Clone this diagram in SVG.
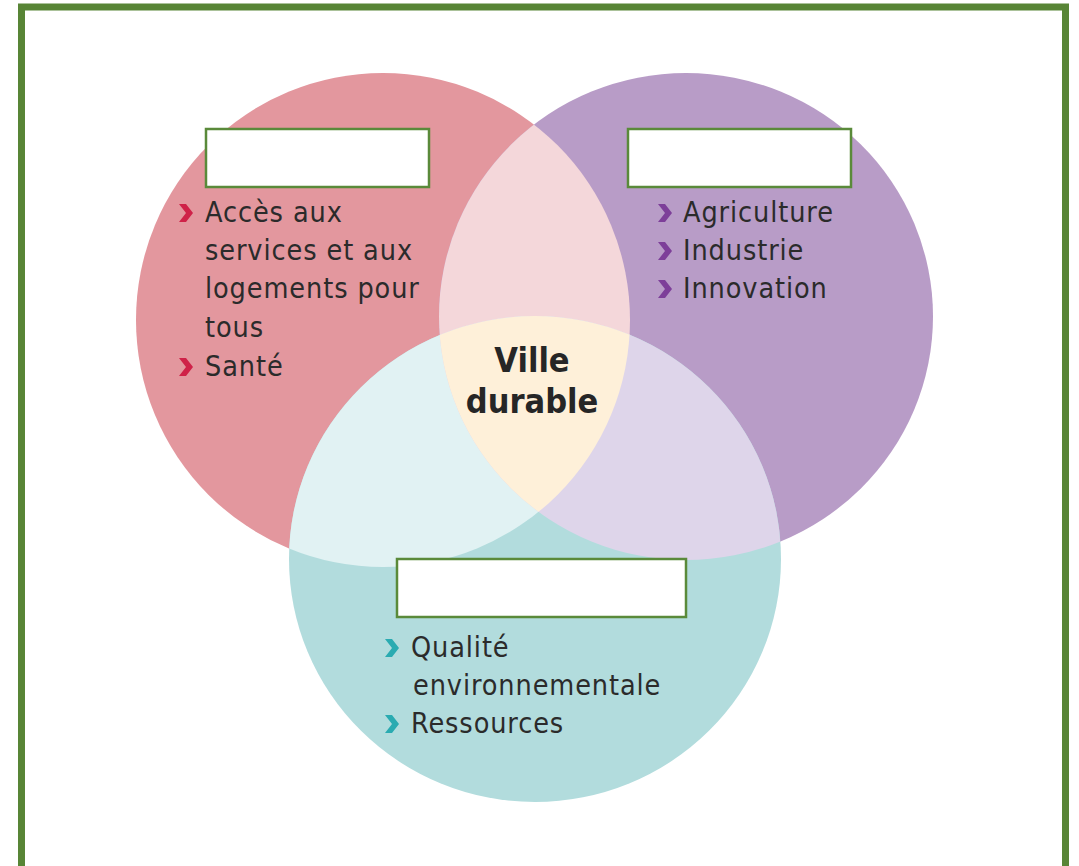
<svg xmlns="http://www.w3.org/2000/svg" width="1079" height="866" viewBox="0 0 1079 866">
<style>
.t{font-family:"DejaVu Sans Condensed","DejaVu Sans","Liberation Sans",sans-serif;font-stretch:condensed;font-size:28.5px;fill:#2b2b2b;letter-spacing:0.9px}
.b{font-family:"DejaVu Sans Condensed","DejaVu Sans","Liberation Sans",sans-serif;font-stretch:condensed;font-size:34px;font-weight:bold;fill:#262626;text-anchor:middle}
.box{fill:#ffffff;stroke:#5a8a3a;stroke-width:2.5}
</style>
<defs>
<clipPath id="cr"><ellipse cx="383" cy="320" rx="247" ry="247"/></clipPath>
<clipPath id="cp"><ellipse cx="686" cy="316.5" rx="247" ry="243.5"/></clipPath>
<polygon id="chev" points="0,0 7,0 14,9 7,18 0,18 7,9"/>
</defs>
<rect x="0" y="0" width="1079" height="866" fill="#ffffff"/>
<rect x="21.5" y="7" width="1044" height="900" fill="none" stroke="#588536" stroke-width="7"/>
<g id="circles">
<ellipse id="red" cx="383" cy="320" rx="247" ry="247" fill="#e3979e"/>
<ellipse id="purple" cx="686" cy="316.5" rx="247" ry="243.5" fill="#b89cc7"/>
<ellipse id="teal" cx="535" cy="559" rx="246" ry="243" fill="#b2dcdd"/>
<ellipse cx="686" cy="316.5" rx="247" ry="243.5" fill="#f4d7da" clip-path="url(#cr)"/>
<ellipse cx="535" cy="559" rx="246" ry="243" fill="#e1f2f3" clip-path="url(#cr)"/>
<ellipse cx="535" cy="559" rx="246" ry="243" fill="#ded5ea" clip-path="url(#cp)"/>
<g clip-path="url(#cr)"><ellipse cx="535" cy="559" rx="246" ry="243" fill="#fef0d9" clip-path="url(#cp)"/></g>
</g>
<g id="node-social">
<rect class="box" x="206" y="129" width="223" height="58"/>
<use href="#chev" x="179" y="204" fill="#cf2248"/>
<text class="t" x="205" y="222">Accès aux</text>
<text class="t" x="205" y="260">services et aux</text>
<text class="t" x="205" y="298">logements pour</text>
<text class="t" x="205" y="337">tous</text>
<use href="#chev" x="179" y="358" fill="#cf2248"/>
<text class="t" x="205" y="376">Santé</text>
</g>
<g id="node-economie">
<rect class="box" x="628" y="129" width="223" height="58"/>
<use href="#chev" x="658" y="204" fill="#7d3f99"/>
<text class="t" x="683" y="222">Agriculture</text>
<use href="#chev" x="658" y="242" fill="#7d3f99"/>
<text class="t" x="683" y="260">Industrie</text>
<use href="#chev" x="658" y="280" fill="#7d3f99"/>
<text class="t" x="683" y="298">Innovation</text>
</g>
<g id="node-environnement">
<rect class="box" x="397" y="559" width="289" height="58"/>
<use href="#chev" x="385" y="639" fill="#2aabb1"/>
<text class="t" x="411" y="657">Qualité</text>
<text class="t" x="413" y="695">environnementale</text>
<use href="#chev" x="385" y="715" fill="#2aabb1"/>
<text class="t" x="411" y="733">Ressources</text>
</g>
<g id="node-center">
<text class="b" x="532" y="372">Ville</text>
<text class="b" x="532" y="413">durable</text>
</g>
<g id="connectors"/>
</svg>
